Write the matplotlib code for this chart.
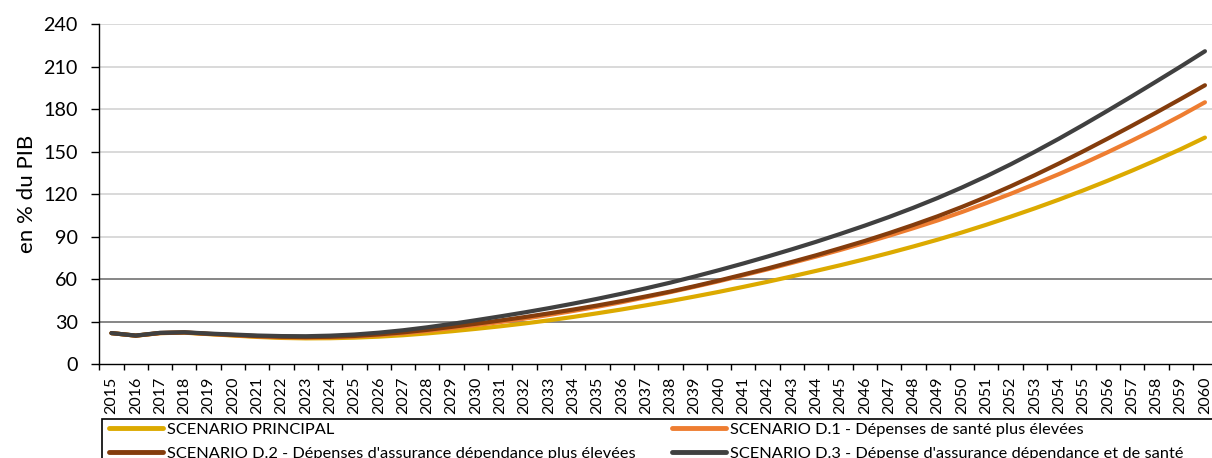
import matplotlib
matplotlib.use("Agg")
import matplotlib.pyplot as plt
from matplotlib.patches import Rectangle
import numpy as np

plt.rcParams['font.family'] = ['Lato', 'DejaVu Sans']

years = list(range(2015, 2061))

scenario_principal = [
    22.0, 20.2, 22.0, 22.3, 21.3, 20.3, 19.3, 18.6, 18.3, 18.4,
    18.8, 19.5, 20.5, 21.8, 23.3, 25.0, 26.8, 28.8, 31.0, 33.4,
    36.0, 38.7, 41.6, 44.6, 47.8, 51.1, 54.6, 58.2, 62.0, 65.9,
    69.9, 74.1, 78.5, 83.1, 87.9, 93.0, 98.4, 104.1, 110.0, 116.2,
    122.7, 129.5, 136.6, 144.0, 151.7, 159.9]

scenario_d1 = [
    22.0, 20.2, 22.0, 22.4, 21.4, 20.5, 19.6, 19.0, 18.8, 19.0,
    19.6, 20.6, 21.9, 23.5, 25.5, 27.6, 29.8, 32.2, 34.8, 37.6,
    40.6, 43.8, 47.3, 50.9, 54.7, 58.6, 62.8, 67.0, 71.5, 76.0,
    80.7, 85.6, 90.7, 96.0, 101.5, 107.4, 113.7, 120.2, 127.1, 134.2,
    141.7, 149.6, 157.8, 166.3, 175.3, 184.8]

scenario_d2 = [
    22.0, 20.2, 22.1, 22.5, 21.5, 20.7, 19.9, 19.4, 19.2, 19.4,
    20.0, 21.1, 22.5, 24.3, 26.4, 28.6, 30.9, 33.3, 35.9, 38.6,
    41.5, 44.6, 47.9, 51.3, 55.1, 59.1, 63.3, 67.6, 72.2, 76.9,
    81.9, 87.0, 92.5, 98.3, 104.4, 111.0, 118.0, 125.5, 133.4, 141.7,
    150.3, 159.2, 168.3, 177.6, 187.1, 196.8]

scenario_d3 = [
    22.0, 20.3, 22.2, 22.6, 21.7, 21.0, 20.3, 19.9, 19.8, 20.2,
    21.0, 22.3, 24.0, 26.1, 28.5, 31.1, 33.8, 36.6, 39.6, 42.8,
    46.2, 49.8, 53.6, 57.6, 61.9, 66.4, 71.1, 76.0, 81.1, 86.4,
    92.0, 97.8, 103.9, 110.4, 117.3, 124.7, 132.6, 141.0, 149.9, 159.2,
    168.9, 178.9, 189.1, 199.5, 210.0, 220.8]

series_labels = [
    "SCENARIO PRINCIPAL",
    "SCENARIO D.1 - Dépenses de santé plus élevées",
    "SCENARIO D.2 - Dépenses d'assurance dépendance plus élevées",
    "SCENARIO D.3 - Dépense d'assurance dépendance et de santé",
]
series_colors = ["#DCAA00", "#EE7D31", "#843C0C", "#404040"]
y_ticks = [0, 30, 60, 90, 120, 150, 180, 210, 240]

W, H = 1212, 458
fig = plt.figure(figsize=(W / 100, H / 100), dpi=100)
left_px, bottom_px, top_px = 99.3, 364.3, 24.0
cat_w = 24.3
n = len(years)
right_px = left_px + n * cat_w
ax = fig.add_axes([left_px / W, 1 - bottom_px / H,
                   (right_px - left_px) / W, (bottom_px - top_px) / H])

x = np.arange(n)
ax.set_xlim(-0.5, n - 0.5)
ax.set_ylim(0, 240)

# gridlines
for v in y_ticks[1:]:
    c = "#868686" if v in (30, 60) else "#D9D9D9"
    ax.axhline(v, color=c, lw=1.4, zorder=1)

handles = []
for vals, lab, col in zip([scenario_principal, scenario_d1, scenario_d2, scenario_d3],
                          series_labels, series_colors):
    h, = ax.plot(x, vals, color=col, lw=3.0, label=lab, zorder=3,
                 solid_capstyle='round', solid_joinstyle='round')
    handles.append(h)

for s in ["top", "right"]:
    ax.spines[s].set_visible(False)
for s in ["left", "bottom"]:
    ax.spines[s].set_color("black")
    ax.spines[s].set_linewidth(1.0)
    ax.spines[s].set_zorder(4)

ax.set_yticks(y_ticks)
ax.set_yticklabels([str(v) for v in y_ticks], fontsize=14.2)
ax.tick_params(axis='y', length=5.5, width=1, direction='out', pad=10)

ax.set_xticks(np.arange(-0.5, n, 1.0))
ax.set_xticklabels([])
ax.tick_params(axis='x', which='major', length=4, width=1, direction='out')
ax.set_xticks(x, minor=True)
ax.set_xticklabels([str(y) for y in years], minor=True, rotation=90, fontsize=11.5)
ax.tick_params(axis='x', which='minor', length=0, pad=9)

ax.set_ylabel("en % du PIB", fontsize=16)
ax.yaxis.set_label_coords(-0.056, 0.5)

# legend frame (extends beyond the figure edge like the reference)
fig.patches.append(Rectangle((102.3 / W, -0.05), (1230 - 102.3) / W, (1 - 419 / H) + 0.05,
                             transform=fig.transFigure, fill=False,
                             edgecolor='black', lw=1.2, zorder=5))

order = [0, 2, 1, 3]
leg = fig.legend([handles[i] for i in order], [series_labels[i] for i in order],
                 loc='upper left', bbox_to_anchor=(106 / W, 1 - 419 / H),
                 bbox_transform=fig.transFigure, ncol=2, fontsize=11.8,
                 frameon=False,
                 handlelength=3.3, handletextpad=0.25, columnspacing=2.2,
                 borderpad=0.2, labelspacing=0.6, borderaxespad=0)
for lh in leg.get_lines():
    lh.set_linewidth(3.5)

fig.savefig("out.png", dpi=100)
